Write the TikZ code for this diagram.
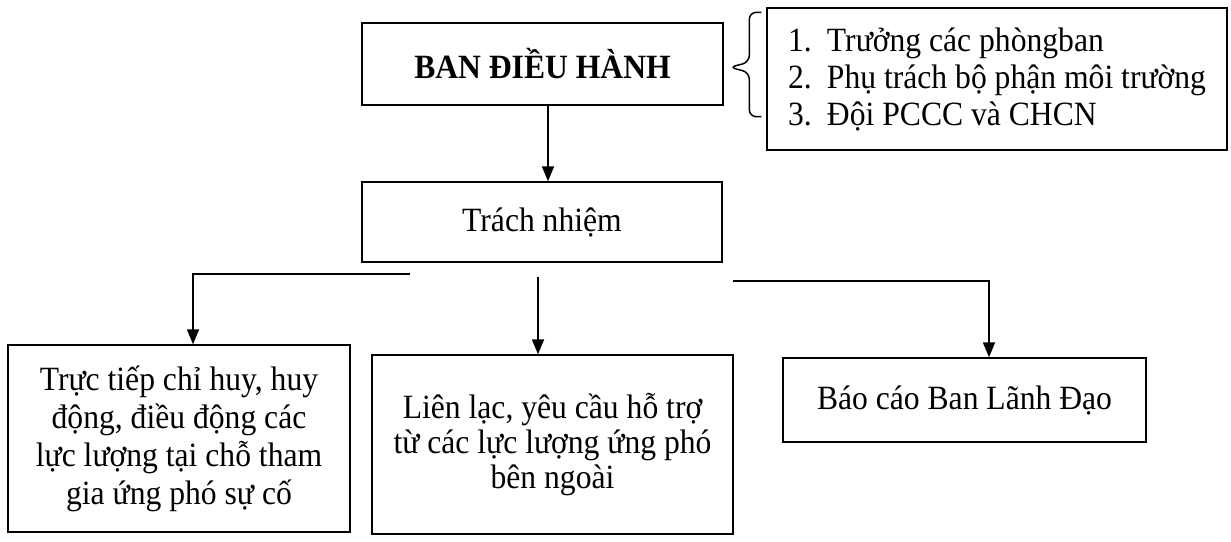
\documentclass[tikz,border=0pt]{standalone}
\usepackage{fontspec}
\setmainfont{Liberation Serif}[FakeStretch=0.93]
\usetikzlibrary{arrows.meta,calc}
\begin{document}
\begin{tikzpicture}[x=1pt,y=1pt,
  box/.style={draw,line width=1.4pt,inner sep=0pt,align=center,
    font=\fontsize{34}{38}\selectfont},
  conn/.style={line width=1.8pt},
  arr/.style={conn,-{Triangle[width=12pt,length=15pt]}}]
\useasboundingbox (0,0) rectangle (1231,-541);
\node[box,minimum width=361,minimum height=82] (ban) at (542.5,-64) {\textbf{BAN ĐIỀU HÀNH}};
\node[box,minimum width=460,minimum height=142,align=left,font=\fontsize{34}{37}\selectfont] (list) at (997,-79)
  {1.\hspace{0.45em}Trưởng các phòngban\\2.\hspace{0.45em}Phụ trách bộ phận môi trường\\3.\hspace{0.45em}Đội PCCC và CHCN};
\node[box,minimum width=360,minimum height=80] (trach) at (542,-222) {Trách nhiệm};
\node[box,minimum width=342,minimum height=187] (b1) at (179,-438.5)
  {Trực tiếp chỉ huy, huy\\động, điều động các\\lực lượng tại chỗ tham\\gia ứng phó sự cố};
\node[box,minimum width=361,minimum height=179,font=\fontsize{34}{35}\selectfont] (b2) at (552.5,-444.5)
  {Liên lạc, yêu cầu hỗ trợ\\từ các lực lượng ứng phó\\bên ngoài};
\node[box,minimum width=363,minimum height=84] (b3) at (964.5,-400) {Báo cáo Ban Lãnh Đạo};
% brace
\coordinate (bt) at ($(list.north west)+(-5,-5)$);
\coordinate (bb) at ($(list.south west)+(-5,34)$);
\draw[conn,line width=1.5pt,rounded corners=7pt] (bt) -- ++(-12,0) -- ++(0,-50) -- ++(-20,-5) -- ++(20,-5)
  -- (bb -| {$(bt)+(-12,0)$}) -- (bb);
% connectors
\draw[arr] ([xshift=5.5pt]ban.south) -- ([xshift=6pt]trach.north);
\coordinate (l1) at (410,-274);
\coordinate (m1) at (538,-277);
\coordinate (r1) at (733,-281);
\draw[arr] (l1) -| ([xshift=14pt]b1.north);
\draw[arr] (m1) -- (m1 |- b2.north);
\draw[arr] (r1) -| ([xshift=24.5pt]b3.north);
\end{tikzpicture}
\end{document}
